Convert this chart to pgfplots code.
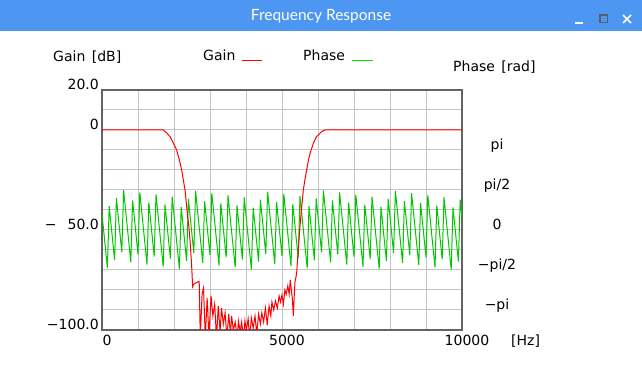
\documentclass[border=0pt]{standalone}
\usepackage{pgfplots}
\pgfplotsset{compat=1.18}
\usepackage{pgfplotstable}
\usepackage{fontspec}
\setmainfont{DejaVu Sans}
\newfontfamily\titlefont{Lato}
\definecolor{titlebar}{RGB}{77,151,242}
\definecolor{gridgray}{RGB}{196,196,196}
\definecolor{framegray}{RGB}{100,100,100}
\definecolor{phasegreen}{RGB}{0,200,0}
\definecolor{legendgreen}{RGB}{0,230,0}
\definecolor{btngray}{RGB}{85,95,110}

\pgfplotstableread{
f ph
0 0.628
50 -0.079
100 -0.785
150 -1.495
200 0.940
250 0.233
300 -0.474
350 -1.184
400 1.251
450 0.544
500 -0.163
550 -0.873
600 1.562
650 0.855
700 0.148
750 -0.559
800 -1.269
850 1.166
900 0.459
950 -0.248
1000 -0.958
1050 1.477
1100 0.770
1150 0.063
1200 -0.647
1250 -1.354
1300 1.081
1350 0.374
1400 -0.333
1450 -1.043
1500 1.392
1550 0.685
1600 -0.022
1650 -0.732
1700 -1.439
1750 0.996
1800 0.289
1850 -0.421
1900 -1.128
1950 1.307
2000 0.600
2050 -0.110
2100 -0.817
2150 -1.524
2200 0.911
2250 0.201
2300 -0.506
2350 -1.213
2400 1.222
2450 0.512
2500 -0.195
2550 -0.902
2600 1.533
2650 0.823
2700 0.116
2750 -0.591
2800 -1.298
2850 1.134
2900 0.427
2950 -0.280
3000 -0.986
3050 1.445
3100 0.738
3150 0.031
3200 -0.675
3250 -1.385
3300 1.049
3350 0.343
3400 -0.364
3450 -1.074
3500 1.360
3550 0.654
3600 -0.053
3650 -0.763
3700 -1.470
3750 0.965
3800 0.258
3850 -0.452
3900 -1.159
3950 1.276
4000 0.569
4050 -0.141
4100 -0.848
4150 -1.555
4200 0.880
4250 0.170
4300 -0.537
4350 -1.244
4400 1.191
4450 0.481
4500 -0.226
4550 -0.933
4600 1.502
4650 0.792
4700 0.085
4750 -0.622
4800 -1.329
4850 1.103
4900 0.396
4950 -0.311
5000 -1.018
5050 1.414
5100 0.707
5150 0.000
5200 -0.710
5250 -1.417
5300 1.018
5350 0.311
5400 -0.396
5450 -1.106
5500 1.329
5550 0.622
5600 -0.085
5650 -0.792
5700 -1.502
5750 0.933
5800 0.226
5850 -0.481
5900 -1.188
5950 1.244
6000 0.537
6050 -0.170
6100 -0.877
6150 1.558
6200 0.848
6250 0.141
6300 -0.565
6350 -1.272
6400 1.163
6450 0.453
6500 -0.254
6550 -0.961
6600 1.474
6650 0.767
6700 0.057
6750 -0.650
6800 -1.357
6850 1.078
6900 0.371
6950 -0.339
7000 -1.046
7050 1.389
7100 0.682
7150 -0.025
7200 -0.735
7250 -1.442
7300 0.993
7350 0.286
7400 -0.421
7450 -1.131
7500 1.304
7550 0.597
7600 -0.110
7650 -0.817
7700 -1.527
7750 0.908
7800 0.201
7850 -0.506
7900 -1.213
7950 1.219
8000 0.512
8050 -0.195
8100 -0.902
8150 1.533
8200 0.823
8250 0.116
8300 -0.591
8350 -1.298
8400 1.137
8450 0.427
8500 -0.280
8550 -0.986
8600 1.448
8650 0.742
8700 0.031
8750 -0.675
8800 -1.382
8850 1.053
8900 0.346
8950 -0.364
9000 -1.071
9050 1.364
9100 0.657
9150 -0.050
9200 -0.760
9250 -1.467
9300 0.968
9350 0.261
9400 -0.446
9450 -1.156
9500 1.279
9550 0.572
9600 -0.135
9650 -0.842
9700 -1.552
9750 0.883
9800 0.176
9850 -0.531
9900 -1.238
9950 1.194
10000 0.487
}\phasedata

\begin{document}
\begin{tikzpicture}[x=1pt,y=1pt,font=\fontsize{14}{16}\selectfont]
% window
\fill[white] (0,0) rectangle (642,390);
\fill[titlebar] (0,359) rectangle (642,390);
\node[text=white, font=\titlefont\fontsize{15.5}{17}\selectfont] at (321,374) {Frequency Response};
\draw[white, line width=1.6pt] (575,367) -- (583,367);
\draw[btngray, line width=1.4pt] (600,367.5) rectangle (607.5,375);
\draw[white, line width=1.6pt] (623,367) -- (631,375) (623,375) -- (631,367);

% titles and legend
\node[anchor=base west, inner sep=0pt] at (53,328) {Gain\hspace{2pt} [dB]};
\node[anchor=base west, inner sep=0pt] at (203,329) {Gain};
\draw[red, line width=1pt] (242,329.5) -- (262,329.5);
\node[anchor=base west, inner sep=0pt] at (303,329.5) {Phase};
\draw[legendgreen, line width=1pt] (352,329.5) -- (373,329.5);
\node[anchor=base west, inner sep=0pt] at (453,318.5) {Phase\hspace{2pt} [rad]};
\node[anchor=base west, inner sep=0pt] at (511,44) {[Hz]};

\begin{axis}[
  at={(102pt,60pt)}, anchor=south west,
  scale only axis, width=360pt, height=240pt,
  xmin=0, xmax=10000, ymin=-100, ymax=20,
  xtick={0,1000,...,10000},
  xticklabels={0,,,,,5000,,,,,10000},
  ytick={-100,-90,...,20},
  yticklabels={−100.0,,,,,{−\hspace{11pt}50.0},,,,,0,,20.0},
  major tick length=0pt,
  grid=major,
  major grid style={gridgray, line width=1pt},
  axis line style={framegray, line width=1.2pt},
  tick label style={font=\fontsize{14}{16}\selectfont},
  xticklabel style={anchor=base, inner sep=0pt, yshift=-16pt, xshift=5pt},
  yticklabel style={anchor=base east, inner sep=0pt, xshift=-3pt},
  scaled x ticks=false,
]
\addplot[phasegreen, line width=1pt, mark=none]
  table[x=f, y expr={-50+12.7324*\thisrow{ph}}] {\phasedata};
\addplot[red, line width=1pt, mark=none] coordinates {
(0,0)(1700,0)(1800,-1.5)(1889,-3.3)(1980,-6.5)(2074,-10)(2150,-15)(2213,-20)
(2260,-25)(2306,-30)(2340,-36)(2370,-41.7)(2410,-48)(2444,-55)(2470,-62)
(2491,-68.3)(2518,-78.3)(2550,-77)(2600,-76.5)(2650,-76)(2700,-75.8)(2730,-104)
(2780,-82)(2820,-79)(2870,-104)(2920,-84)(2970,-103)(3030,-83)(3080,-93)
(3130,-87)(3180,-104)(3230,-88)(3280,-101)(3320,-89)(3370,-97)(3420,-91.5)
(3470,-104)(3520,-92)(3570,-102)(3600,-93)(3650,-100)(3700,-96)(3760,-104)
(3790,-95.5)(3840,-101)(3880,-96)(3930,-104)(3970,-95.5)(4010,-100)(4060,-94.5)
(4100,-104)(4150,-94)(4200,-99)(4250,-93)(4300,-102)(4350,-92)(4400,-97)
(4440,-91.5)(4490,-96)(4540,-89)(4590,-97.5)(4640,-88)(4690,-93)(4720,-86)
(4770,-90)(4820,-85.5)(4870,-89)(4920,-83)(4960,-86)(5000,-82.5)(5040,-87)
(5080,-80)(5120,-82)(5160,-78)(5200,-82)(5230,-75)(5260,-80)(5290,-85)
(5315,-93)(5340,-83)(5361,-76)(5407,-71.7)(5450,-60)(5500,-48)(5550,-38)
(5592,-30)(5640,-24.5)(5685,-20)(5730,-15.5)(5778,-11.7)(5870,-6.7)(5950,-3.5)
(6009,-2.5)(6100,-0.8)(6194,0)(10000,0)
};
\end{axis}

\begin{axis}[
  at={(102pt,60pt)}, anchor=south west,
  scale only axis, width=360pt, height=240pt,
  xmin=0, xmax=10000, ymin=-3.92699, ymax=5.49779,
  axis line style={draw=none},
  xtick=\empty,
  ytick={-3.14159,-1.5708,0,1.5708,3.14159},
  yticklabels={−pi,−pi/2,0,pi/2,pi},
  ytick pos=right, yticklabel pos=right,
  major tick length=0pt,
  tick label style={font=\fontsize{14}{16}\selectfont},
  yticklabel style={anchor=base, inner sep=0pt, xshift=35pt},
]
\end{axis}
\end{tikzpicture}
\end{document}
